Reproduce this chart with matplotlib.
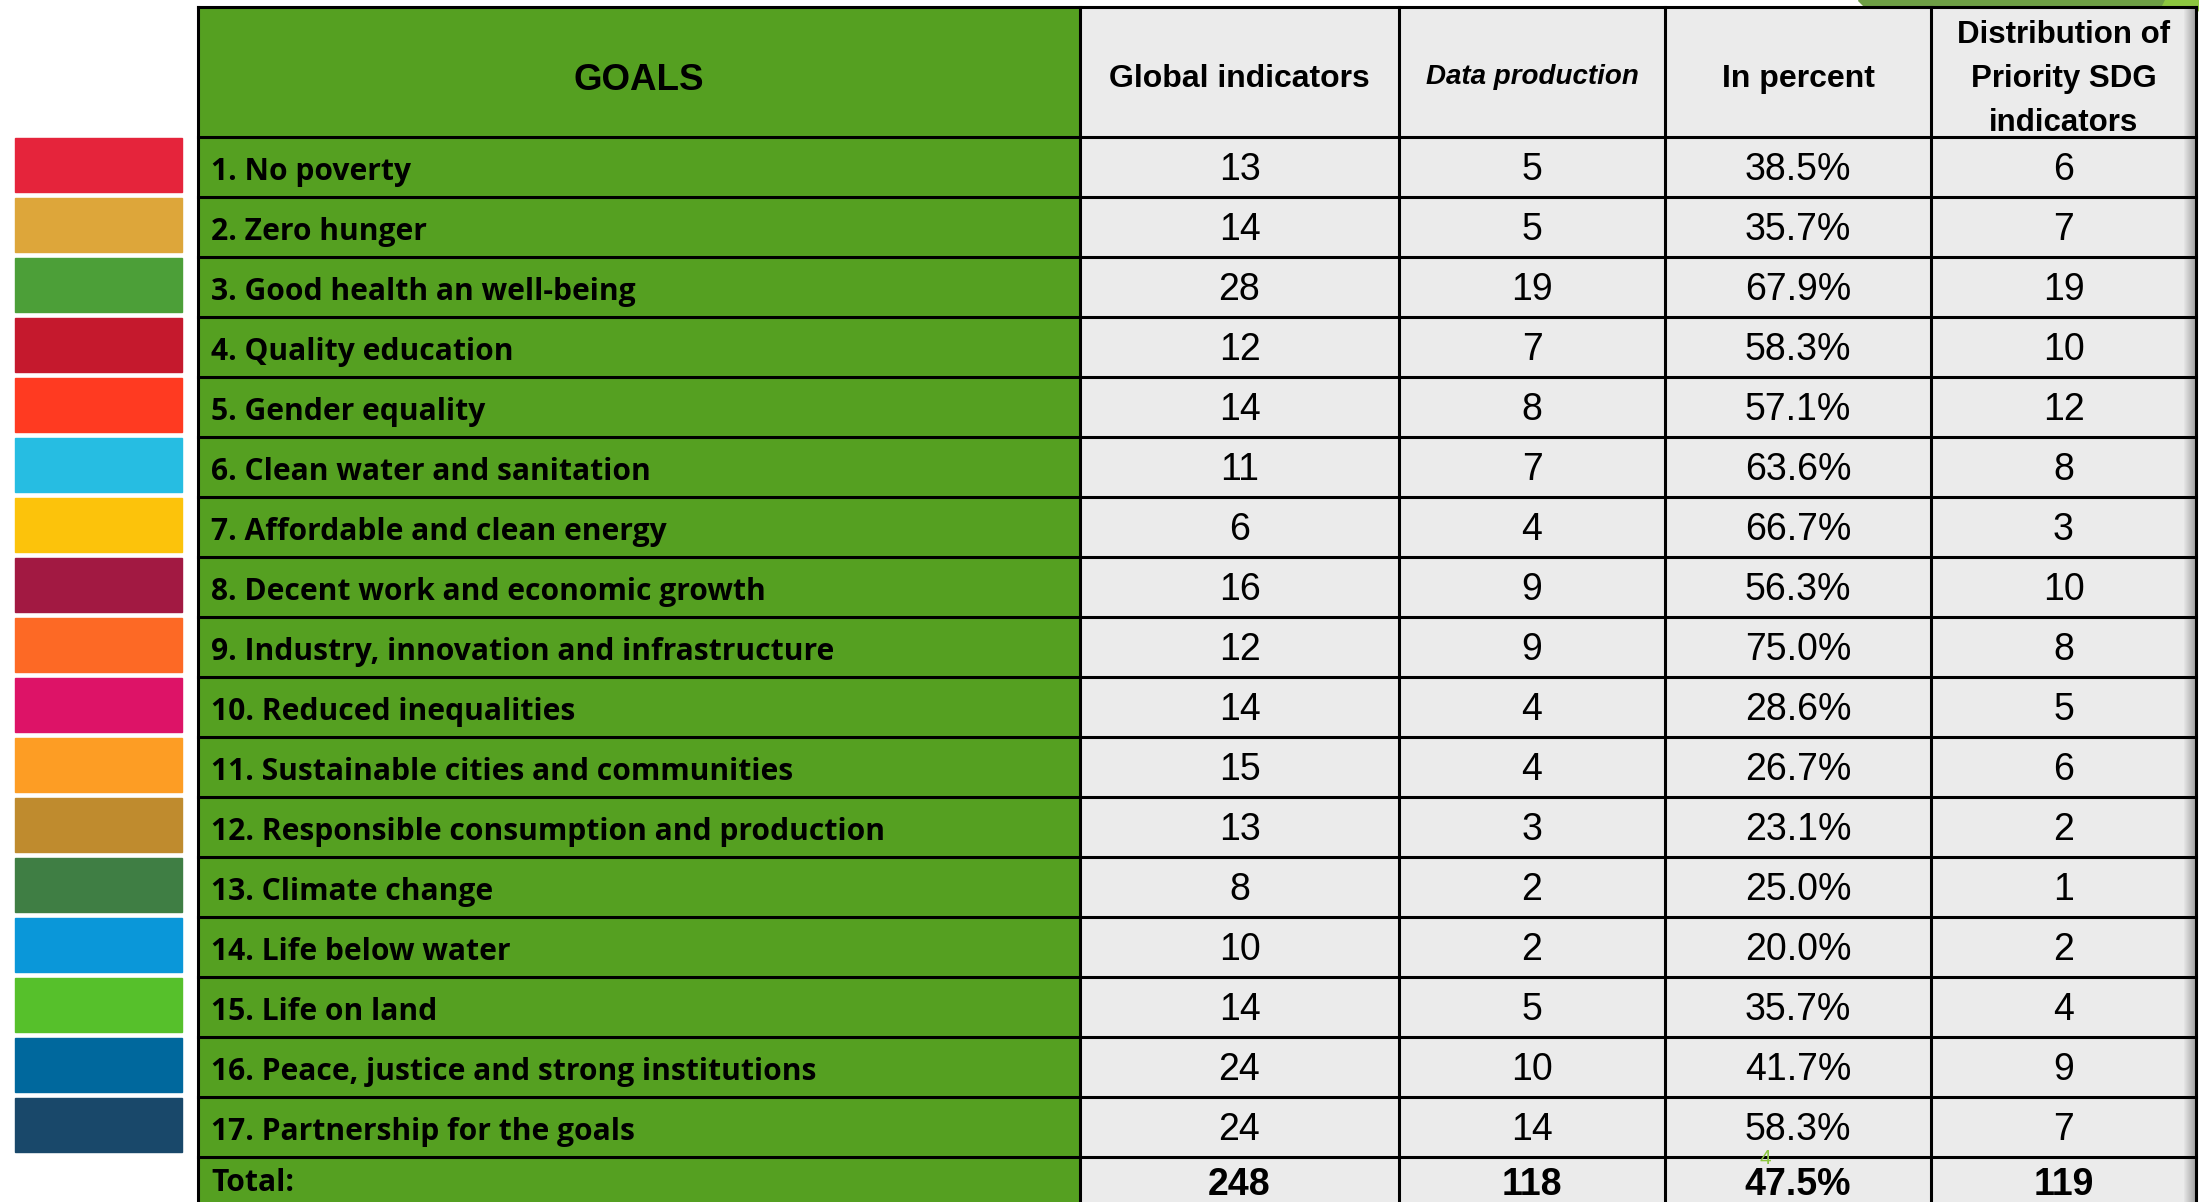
import matplotlib.pyplot as plt
from matplotlib.patches import Rectangle, Polygon

# table contents
goals = ["1. No poverty", "2. Zero hunger", "3. Good health an well-being",
         "4. Quality education", "5. Gender equality", "6. Clean water and sanitation",
         "7. Affordable and clean energy", "8. Decent work and economic growth",
         "9. Industry, innovation and infrastructure", "10. Reduced inequalities",
         "11. Sustainable cities and communities",
         "12. Responsible consumption and production", "13. Climate change",
         "14. Life below water", "15. Life on land",
         "16. Peace, justice and strong institutions", "17. Partnership for the goals"]
global_ind = [13, 14, 28, 12, 14, 11, 6, 16, 12, 14, 15, 13, 8, 10, 14, 24, 24]
data_prod = [5, 5, 19, 7, 8, 7, 4, 9, 9, 4, 4, 3, 2, 2, 5, 10, 14]
in_percent = ["38.5%", "35.7%", "67.9%", "58.3%", "57.1%", "63.6%", "66.7%", "56.3%",
              "75.0%", "28.6%", "26.7%", "23.1%", "25.0%", "20.0%", "35.7%", "41.7%",
              "58.3%"]
priority = [6, 7, 19, 10, 12, 8, 3, 10, 8, 5, 6, 2, 1, 2, 4, 9, 7]
totals = ["248", "118", "47.5%", "119"]
sdg_colors = ["#E5243B", "#DDA63A", "#4C9F38", "#C5192D", "#FF3A21", "#26BDE2",
              "#FCC30B", "#A21942", "#FD6925", "#DD1367", "#FD9D24", "#BF8B2E",
              "#3F7E44", "#0A97D9", "#56C02B", "#00689D", "#19486A"]

W, H = 2199, 1202
col_x = [198, 1080, 1399, 1665, 1931, 2196]
top, head_bot, row_h = 7, 137, 60
green = "#55A021"
grey = "#EBEBEB"
lw = 2.2

fig = plt.figure(figsize=(W / 100, H / 100), dpi=100)
ax = fig.add_axes([0, 0, 1, 1])
ax.set_xlim(0, W)
ax.set_ylim(H, 0)
ax.axis("off")

# slide decoration top right
ax.add_patch(Polygon([(1858, 0), (W, 0), (W, 10), (1868, 10)], color="#6E9F45", zorder=0))
ax.add_patch(Polygon([(2165, 0), (W, 0), (W, 10), (2160, 10)], color="#8CC63F", zorder=0))

n = len(goals)
rows_top = [head_bot + i * row_h for i in range(n + 1)]
bottom = rows_top[-1] + row_h

# backgrounds
ax.add_patch(Rectangle((col_x[0], top), col_x[1] - col_x[0], bottom - top, color=green, zorder=1))
ax.add_patch(Rectangle((col_x[1], top), col_x[-1] - col_x[1], bottom - top, color=grey, zorder=1))

# right edge shadow
for k in range(12):
    ax.add_patch(Rectangle((2184 + k, top), 1, bottom - top,
                           color=(0.45, 0.45, 0.45), alpha=0.06 + k * 0.05, lw=0, zorder=2))

# color strips
for i, c in enumerate(sdg_colors):
    ax.add_patch(Rectangle((15, rows_top[i] + 1), 167, row_h - 6, color=c, zorder=1))

# grid lines
for y in [top, head_bot] + rows_top[1:]:
    ax.plot([col_x[0], col_x[-1]], [y, y], color="black", lw=lw, zorder=3)
for x in col_x:
    ax.plot([x, x], [top, H + 20], color="black", lw=lw, zorder=3)

num_font = "Liberation Sans"
goal_font = "Open Sans"

# header
centers = [(col_x[i] + col_x[i + 1]) / 2 for i in range(5)]
hy = (top + head_bot) / 2
ax.text(centers[0], hy + 8, "GOALS", family=num_font, fontsize=26.5, weight="bold",
        ha="center", va="center", zorder=4)
ax.text(centers[1], hy + 7, "Global indicators", family=num_font, fontsize=23,
        weight="bold", ha="center", va="center", zorder=4)
ax.text(centers[2], hy + 5, "Data production", family=num_font, fontsize=20, weight="bold",
        style="italic", ha="center", va="center", zorder=4)
ax.text(centers[3], hy + 7, "In percent", family=num_font, fontsize=23, weight="bold",
        ha="center", va="center", zorder=4)
ax.text(centers[4], hy + 7, "Distribution of\nPriority SDG\nindicators", family=num_font,
        fontsize=22.5, weight="bold", ha="center", va="center", linespacing=1.6, zorder=4)

# body
for i in range(n):
    yc = rows_top[i] + row_h / 2
    ax.text(211, yc + 5, goals[i], family=goal_font, fontsize=21.6, weight="bold",
            ha="left", va="center", zorder=4)
    vals = [str(global_ind[i]), str(data_prod[i]), in_percent[i], str(priority[i])]
    for j, v in enumerate(vals):
        ax.text(centers[j + 1], yc + 3, v, family=num_font, fontsize=27,
                ha="center", va="center", zorder=4)

# total row
yc = rows_top[-1] + row_h / 2
ax.text(211, yc - 4, "Total:", family=goal_font, fontsize=21.6, weight="bold",
        ha="left", va="center", zorder=4)
for j, v in enumerate(totals):
    ax.text(centers[j + 1], yc - 2, v, family=num_font, fontsize=27, weight="bold",
            ha="center", va="center", zorder=4)

# slide page number
ax.text(1765, 1158, "4", family=num_font, fontsize=15, color="#8CC63F",
        ha="center", va="center", zorder=5)

fig.savefig("out.png", dpi=100)
